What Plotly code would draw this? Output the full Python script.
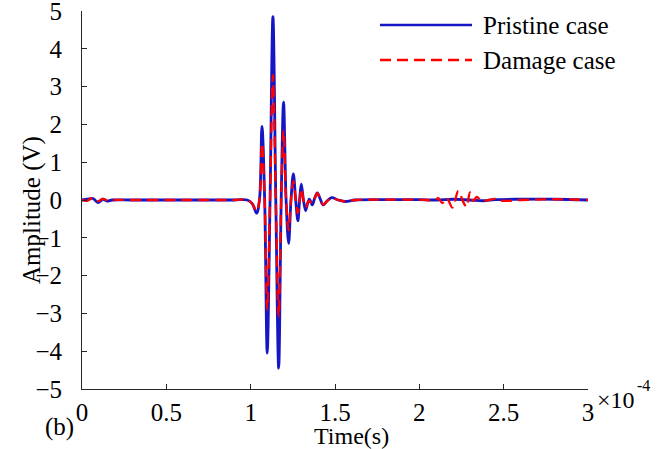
import plotly.graph_objects as go

# time in units of 1e-4 s, amplitude in V
t_pristine = [0, 0.03, 0.065, 0.095, 0.124, 0.148, 0.18, 0.3, 0.6, 0.9, 0.98,
              1.01, 1.035, 1.052, 1.067, 1.083, 1.098, 1.115, 1.132, 1.149,
              1.166, 1.181, 1.195, 1.21, 1.225, 1.239, 1.253, 1.267, 1.28,
              1.29, 1.30, 1.313, 1.326, 1.337, 1.348, 1.357, 1.365, 1.38,
              1.395, 1.412, 1.43, 1.455, 1.48, 1.52, 1.56, 1.62, 1.8, 2.0,
              2.1, 2.2, 2.3, 2.38, 2.45, 2.6, 2.8, 3.0]
a_pristine = [0, 0.02, 0.04, -0.07, 0.02, -0.03, 0, 0, 0, 0, 0,
              -0.1, -0.35, 0, 1.95, 0, -4.05, 0, 4.85, 0,
              -4.45, 0, 2.59, 0, -1.15, 0, 0.69, 0, -0.55,
              0, 0.42, 0, -0.28, -0.1, 0.02, -0.05, -0.13, 0.05,
              0.19, 0.03, -0.13, -0.02, 0.06, 0, -0.04, 0, 0.01, 0.01,
              0, 0.02, 0, -0.02, 0.01, 0.02, 0.02, 0]

t_damage = [0, 0.03, 0.065, 0.095, 0.124, 0.148, 0.18, 0.3, 0.6, 0.9, 0.98,
            1.01, 1.035, 1.052, 1.067, 1.083, 1.098, 1.115, 1.132, 1.149,
            1.166, 1.181, 1.195, 1.21, 1.225, 1.239, 1.253, 1.267, 1.28,
            1.29, 1.30, 1.313, 1.326, 1.345, 1.365, 1.38, 1.395, 1.412,
            1.43, 1.455, 1.48, 1.52, 1.56, 1.62, 1.8, 2.0, 2.093, 2.112,
            2.136, 2.162, 2.197, 2.231, 2.26, 2.28, 2.30, 2.32, 2.34, 2.37,
            2.41, 2.45, 2.49, 2.6, 2.8, 3.0]
a_damage = [0, -0.02, 0.06, -0.03, 0.03, -0.01, 0, 0, 0, 0, 0,
            -0.1, -0.3, 0, 1.5, 0, -2.9, 0, 3.3, 0,
            -3.1, 0, 1.85, 0, -0.8, 0, 0.5, 0, -0.35,
            -0.05, 0.3, 0, -0.2, -0.02, -0.1, 0.05, 0.18, 0.03,
            -0.12, -0.02, 0.06, 0, -0.04, 0, 0.01, 0.01, 0, 0.05,
            -0.08, 0.05, -0.2, 0.24, -0.05, -0.18, 0.2, -0.02, 0.08, -0.03,
            0, 0.03, -0.02, 0, 0.02, 0]

x_ticks = [0, 0.5, 1, 1.5, 2, 2.5, 3]
x_labels = ["0", "0.5", "1", "1.5", "2", "2.5", "3"]
y_ticks = [-5, -4, -3, -2, -1, 0, 1, 2, 3, 4, 5]

FONT = "Liberation Serif, Times New Roman, serif"
FS = 25
BLUE = "#1616c4"
RED = "#ff0000"
AXIS = "#262626"
DASH = "11px,6px"

# plot area in page pixels
L, T, PW, PH = 82, 11, 506, 378


def px(x):
    return (x - L) / PW


def py(y):
    return (T + PH - y) / PH


fig = go.Figure()
fig.add_trace(go.Scatter(x=t_pristine, y=a_pristine, mode="lines", name="Pristine case",
                         line=dict(color=BLUE, width=2.8, shape="spline", smoothing=1),
                         showlegend=False))
fig.add_trace(go.Scatter(x=t_damage, y=a_damage, mode="lines", name="Damage case",
                         line=dict(color=RED, width=2.3, dash=DASH, shape="spline", smoothing=1),
                         showlegend=False))

# hand-made legend (no box, long line samples as in the original)
legend_items = [("Pristine case", BLUE, "solid", 25), ("Damage case", RED, DASH, 60)]
for label, col, dash, yy in legend_items:
    fig.add_shape(type="line", xref="paper", yref="paper",
                  x0=px(380), x1=px(472), y0=py(yy), y1=py(yy),
                  line=dict(color=col, width=2.3, dash=dash))
    fig.add_annotation(text=label, xref="paper", yref="paper", x=px(481), y=py(yy),
                       xanchor="left", yanchor="middle", showarrow=False,
                       font=dict(family=FONT, size=FS, color="black"))

fig.add_annotation(text="Time(s)", xref="paper", yref="paper", x=px(351), y=py(436),
                   xanchor="center", yanchor="middle", showarrow=False,
                   font=dict(family=FONT, size=24, color="black"))
fig.add_annotation(text="Amplitude (V)", xref="paper", yref="paper", x=px(32), y=py(210),
                   textangle=-90, xanchor="center", yanchor="middle", showarrow=False,
                   font=dict(family=FONT, size=FS, color="black"))
fig.add_annotation(text="(b)", xref="paper", yref="paper", x=px(59), y=py(427),
                   xanchor="center", yanchor="middle", showarrow=False,
                   font=dict(family=FONT, size=FS, color="black"))
fig.add_annotation(text="×10", xref="paper", yref="paper", x=px(595), y=py(400),
                   xanchor="left", yanchor="middle", showarrow=False,
                   font=dict(family=FONT, size=24, color="black"))
fig.add_annotation(text="-4", xref="paper", yref="paper", x=px(635), y=py(385),
                   xanchor="left", yanchor="middle", showarrow=False,
                   font=dict(family=FONT, size=16, color="black"))

fig.update_xaxes(range=[0, 3], tickvals=x_ticks, ticktext=x_labels,
                 showline=True, linecolor=AXIS, linewidth=1, mirror=False,
                 ticks="inside", ticklen=5, tickcolor=AXIS, showgrid=False, zeroline=False,
                 ticklabelstandoff=1, ticklabeloverflow="allow", automargin=False,
                 tickfont=dict(family=FONT, size=FS, color="black"))
fig.update_yaxes(range=[-5, 5], tickvals=y_ticks,
                 showline=True, linecolor=AXIS, linewidth=1, mirror=False,
                 ticks="inside", ticklen=5, tickcolor=AXIS, showgrid=False, zeroline=False,
                 ticklabelstandoff=14, ticklabeloverflow="allow", automargin=False,
                 tickfont=dict(family=FONT, size=FS, color="black"))

fig.update_layout(width=668, height=449,
                  margin=dict(l=L, r=668 - L - PW, t=T, b=449 - T - PH),
                  plot_bgcolor="white", paper_bgcolor="white",
                  font=dict(family=FONT, size=FS, color="black"))

# drop the browser's default 8px body margin so the figure sits at the page corner
fig.write_html("out.html", config={"displayModeBar": False},
               post_script="document.body.style.margin='0px';")
